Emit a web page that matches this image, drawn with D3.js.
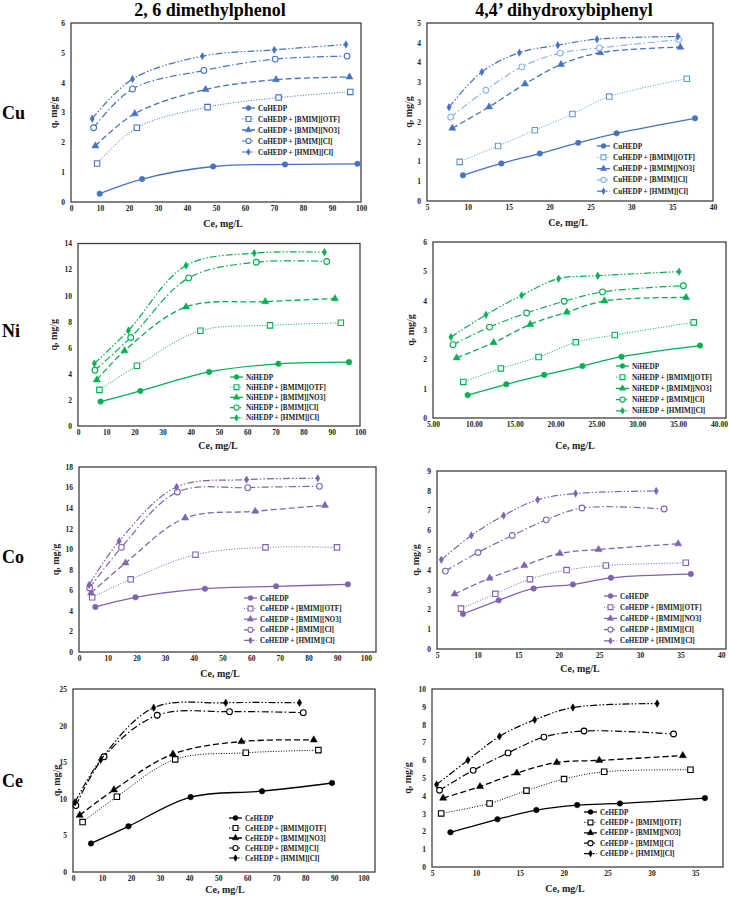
<!DOCTYPE html>
<html>
<head>
<meta charset="utf-8">
<script src="https://cdn.jsdelivr.net/npm/d3@7"></script>
<style>
  body { margin: 0; background: #fff; }
  text { font-family: "Liberation Serif", "Times New Roman", serif; font-weight: bold; }
</style>
</head>
<body>
<script>
// column titles, row labels and legend names
const phenols = ["2, 6 dimethylphenol", "4,4\u2019 dihydroxybiphenyl"];
const metals = ["Cu", "Ni", "Co", "Ce"];
const seriesSuffix = ["HEDP", "HEDP + [BMIM][OTF]", "HEDP + [BMIM][NO3]", "HEDP + [BMIM][Cl]", "HEDP + [HMIM][Cl]"];

// [Ce, qe] pairs, 5 series each
const cuDmp = [
  [[9.9,0.28],[24.5,0.77],[49.0,1.19],[73.8,1.26],[98.8,1.28]],
  [[9.0,1.29],[22.7,2.49],[47.1,3.18],[71.6,3.50],[96.3,3.69]],
  [[8.4,1.88],[22.0,2.96],[46.4,3.77],[70.7,4.10],[96.0,4.19]],
  [[7.8,2.49],[21.2,3.79],[45.8,4.41],[70.4,4.79],[95.2,4.89]],
  [[7.3,2.79],[21.2,4.12],[45.3,4.89],[70.1,5.10],[94.8,5.28]]
];
const cuBip = [
  [[9.4,0.65],[14.1,0.95],[18.8,1.20],[23.5,1.47],[28.2,1.71],[37.8,2.09]],
  [[9.0,0.99],[13.7,1.39],[18.2,1.79],[22.8,2.20],[27.3,2.64],[36.8,3.09]],
  [[8.1,1.84],[12.6,2.38],[17.0,2.96],[21.4,3.45],[26.2,3.75],[36.0,3.89]],
  [[7.9,2.12],[12.2,2.80],[16.6,3.39],[21.3,3.74],[26.1,3.87],[35.8,4.08]],
  [[7.7,2.37],[11.7,3.26],[16.3,3.75],[21.0,3.94],[25.8,4.09],[35.7,4.16]]
];
const niDmp = [
  [[8.0,1.87],[22.1,2.69],[46.5,4.15],[71.1,4.77],[96.1,4.90]],
  [[7.6,2.77],[20.9,4.62],[43.4,7.31],[68.1,7.72],[93.2,7.92]],
  [[6.7,3.54],[16.5,5.77],[38.3,9.13],[66.4,9.54],[91.1,9.77]],
  [[6.0,4.28],[18.7,6.79],[39.2,11.36],[63.2,12.56],[88.2,12.62]],
  [[5.8,4.79],[17.9,7.33],[38.3,12.31],[62.5,13.26],[87.4,13.33]]
];
const niBip = [
  [[9.24,0.78],[13.97,1.15],[18.61,1.47],[23.30,1.77],[28.07,2.09],[37.68,2.47]],
  [[8.71,1.23],[13.31,1.69],[17.92,2.08],[22.48,2.58],[27.25,2.83],[36.91,3.26]],
  [[7.89,2.05],[12.42,2.57],[16.90,3.19],[21.38,3.61],[25.99,3.99],[35.97,4.11]],
  [[7.45,2.50],[11.92,3.10],[16.45,3.58],[21.06,3.98],[25.74,4.30],[35.64,4.51]],
  [[7.20,2.76],[11.48,3.52],[15.84,4.18],[20.37,4.75],[25.17,4.85],[35.11,4.99]]
];
const coDmp = [
  [[5.7,4.38],[19.7,5.32],[43.9,6.16],[68.7,6.39],[93.7,6.58]],
  [[4.6,5.32],[18.0,7.07],[40.6,9.47],[65.0,10.18],[89.9,10.18]],
  [[4.2,5.74],[16.2,8.66],[37.0,13.04],[61.4,13.69],[85.7,14.27]],
  [[3.7,6.23],[14.8,10.18],[34.3,15.57],[58.8,15.99],[83.8,16.12]],
  [[3.5,6.52],[14.0,10.80],[34.0,16.06],[58.4,16.77],[83.2,16.90]]
];
const coBip = [
  [[8.20,1.77],[12.59,2.46],[16.90,3.06],[21.74,3.26],[26.42,3.60],[36.27,3.79]],
  [[7.95,2.04],[12.18,2.79],[16.45,3.53],[20.96,3.99],[25.80,4.22],[35.65,4.36]],
  [[7.17,2.78],[11.48,3.58],[15.75,4.22],[20.14,4.83],[24.90,5.03],[34.71,5.32]],
  [[6.03,3.94],[10.05,4.88],[14.27,5.74],[18.46,6.53],[22.85,7.13],[32.98,7.08]],
  [[5.53,4.51],[9.23,5.74],[13.21,6.75],[17.39,7.55],[22.07,7.86],[32.0,7.99]]
];
const ceDmp = [
  [[6.2,3.90],[19.1,6.24],[40.5,10.23],[65.1,11.04],[89.2,12.16]],
  [[3.3,6.82],[15.1,10.28],[35.2,15.39],[59.5,16.29],[84.5,16.65]],
  [[2.3,7.76],[14.1,11.22],[34.4,16.11],[58.0,17.82],[82.9,18.04]],
  [[1.0,9.07],[10.7,15.75],[29.0,21.41],[53.9,21.90],[79.3,21.77]],
  [[0.7,9.52],[9.5,15.31],[27.8,22.44],[52.6,23.11],[78.0,23.11]]
];
const ceBip = [
  [[7.10,1.95],[12.46,2.68],[16.89,3.20],[21.54,3.48],[26.41,3.57],[36.09,3.87]],
  [[6.05,3.01],[11.56,3.57],[15.76,4.29],[20.04,4.94],[24.61,5.35],[34.44,5.46]],
  [[6.27,3.87],[10.47,4.52],[14.67,5.28],[19.21,5.87],[24.05,5.99],[33.57,6.26]],
  [[5.86,4.31],[9.69,5.43],[13.66,6.41],[17.75,7.30],[22.32,7.64],[32.52,7.47]],
  [[5.52,4.63],[9.09,6.00],[12.69,7.34],[16.70,8.27],[21.05,8.96],[30.65,9.18]]
];

// tick values
const ticks0to100 = d3.range(0, 101, 10);
const ticks5to40 = d3.range(5, 41, 5);
const ticks5to35 = d3.range(5, 36, 5);

const W = 730, H = 902;
const svg = d3.select("body").append("svg").attr("width", W).attr("height", H);

// line style per series: dash, width, marker
const styles = [
  { dash: null, w: 1.3, sym: d3.symbolCircle, size: 24, open: false },
  { dash: "1,1.6", w: 1.0, sym: d3.symbolSquare, size: 30, open: true },
  { dash: "6,3", w: 1.3, sym: d3.symbolTriangle, size: 22, open: false },
  { dash: "7,2.5,1.5,2.5", w: 1.2, sym: d3.symbolCircle, size: 26, open: true },
  { dash: "7,2,1.5,2,1.5,2", w: 1.2, sym: d3.symbolDiamond, size: 16, open: false }
];

const blue = "#4472C4", green = "#00B050", purple = "#7F63B0", black = "#000";

const panels = [
  { data: cuDmp, metal: "Cu", colors: [blue, blue, blue, blue, blue],
    f: { l: 71, r: 361, t: 23, b: 202 }, xd: [0, 100], xt: ticks0to100, yd: [0, 6], yt: d3.range(0, 7, 1),
    yf: d3.format("d"), xf: d3.format("d"), leg: { x: 242, y: 108, dy: 11 }, ylx: 53, xlx: 223, xly: 227 },
  { data: cuBip, metal: "Cu", colors: [blue, "#5B9BD5", blue, "#8EB4E3", blue],
    f: { l: 427, r: 713, t: 23, b: 201 }, xd: [5, 40], xt: ticks5to40, yd: [0, 4.5], yt: d3.range(0, 4.51, 0.5),
    yf: d => Math.round(d), xf: d3.format("d"), leg: { x: 597, y: 146, dy: 11.3 }, ylx: 408, xlx: 568, xly: 226 },
  { data: niDmp, metal: "Ni", colors: [green, green, green, green, green],
    f: { l: 78, r: 360, t: 243.5, b: 426 }, xd: [0, 100], xt: ticks0to100, yd: [0, 14], yt: d3.range(0, 15, 2),
    yf: d3.format("d"), xf: d3.format("d"), leg: { x: 230, y: 377, dy: 10.2 }, ylx: 53, xlx: 218, xly: 449 },
  { data: niBip, metal: "Ni", colors: [green, green, green, green, green],
    f: { l: 433, r: 726, t: 242, b: 418 }, xd: [5, 40.86], xt: ticks5to40, yd: [0, 6], yt: d3.range(0, 7, 1),
    yf: d3.format("d"), xf: d3.format(".2f"), leg: { x: 616, y: 366, dy: 11.2 }, ylx: 410, xlx: 575, xly: 449 },
  { data: coDmp, metal: "Co", colors: [purple, purple, purple, purple, purple],
    f: { l: 79, r: 376, t: 467, b: 652 }, xd: [0, 103.5], xt: ticks0to100, yd: [0, 18], yt: d3.range(0, 19, 2),
    yf: d3.format("d"), xf: d3.format("d"), leg: { x: 244, y: 598, dy: 10.6 }, ylx: 55, xlx: 220, xly: 677 },
  { data: coBip, metal: "Co", colors: [purple, purple, purple, purple, purple],
    f: { l: 437, r: 726, t: 471, b: 649 }, xd: [5, 40.6], xt: ticks5to40, yd: [0, 9], yt: d3.range(0, 10, 1),
    yf: d3.format("d"), xf: d3.format("d"), leg: { x: 604, y: 596, dy: 11.2 }, ylx: 415, xlx: 580, xly: 672 },
  { data: ceDmp, metal: "Ce", colors: [black, black, black, black, black],
    f: { l: 73, r: 375, t: 689, b: 872 }, xd: [0, 104], xt: ticks0to100, yd: [0, 25], yt: d3.range(0, 26, 5),
    yf: d3.format("d"), xf: d3.format("d"), leg: { x: 229, y: 818, dy: 10 }, ylx: 56, xlx: 225, xly: 893 },
  { data: ceBip, metal: "Ce", colors: [black, black, black, black, black],
    f: { l: 432, r: 723, t: 689, b: 867 }, xd: [5, 38.15], xt: ticks5to35, yd: [0, 10], yt: d3.range(0, 11, 1),
    yf: d3.format("d"), xf: d3.format("d"), leg: { x: 584, y: 812, dy: 10.4 }, ylx: 407, xlx: 565, xly: 892 }
];

function drawMarker(g, st, color, x, y, scale) {
  g.append("path")
    .attr("d", d3.symbol().type(st.sym).size(st.size * (scale || 1)))
    .attr("transform", "translate(" + x + "," + y + ")")
    .attr("fill", st.open ? "#fff" : color)
    .attr("stroke", color)
    .attr("stroke-width", st.open ? 1.1 : 0.5);
}

panels.forEach(function (p) {
  const f = p.f;
  const x = d3.scaleLinear().domain(p.xd).range([f.l, f.r]);
  const y = d3.scaleLinear().domain(p.yd).range([f.b, f.t]);
  const g = svg.append("g");

  // axes
  const xa = g.append("g").attr("transform", "translate(0," + f.b + ")")
    .call(d3.axisBottom(x).tickValues(p.xt).tickFormat(p.xf).tickSize(0).tickPadding(4));
  const ya = g.append("g").attr("transform", "translate(" + f.l + ",0)")
    .call(d3.axisLeft(y).tickValues(p.yt).tickFormat(p.yf).tickSize(0).tickPadding(6));
  [xa, ya].forEach(function (a) {
    a.select(".domain").remove();
    a.selectAll("text").attr("font-size", 7.5).attr("fill", "#222");
  });

  // plot frame
  g.append("rect").attr("x", f.l).attr("y", f.t).attr("width", f.r - f.l).attr("height", f.b - f.t)
    .attr("fill", "none").attr("stroke", "#404040").attr("stroke-width", 1.3);

  const line = d3.line().x(d => x(d[0])).y(d => y(d[1])).curve(d3.curveCatmullRom.alpha(0.5));

  p.data.forEach(function (s, i) {
    const st = styles[i], c = p.colors[i];
    g.append("path").datum(s).attr("d", line).attr("fill", "none")
      .attr("stroke", c).attr("stroke-width", st.w)
      .attr("stroke-dasharray", st.dash);
    s.forEach(function (d) { drawMarker(g, st, c, x(d[0]), y(d[1])); });
  });

  // legend
  p.data.forEach(function (s, i) {
    const st = styles[i], c = p.colors[i];
    const ly = p.leg.y + i * p.leg.dy;
    g.append("line").attr("x1", p.leg.x).attr("x2", p.leg.x + 13).attr("y1", ly).attr("y2", ly)
      .attr("stroke", c).attr("stroke-width", st.w).attr("stroke-dasharray", st.dash);
    drawMarker(g, st, c, p.leg.x + 6.5, ly, 0.8);
    g.append("text").attr("x", p.leg.x + 16).attr("y", ly + 2.5)
      .attr("font-size", 7.2).attr("fill", "#222").text(p.metal + seriesSuffix[i]);
  });

  // axis titles
  g.append("text").attr("x", p.xlx).attr("y", p.xly).attr("text-anchor", "middle")
    .attr("font-size", 10).attr("fill", "#222").text("Ce, mg/L");
  g.append("text").attr("transform", "translate(" + p.ylx + "," + ((f.t + f.b) / 2) + ") rotate(-90)")
    .attr("text-anchor", "middle").attr("dy", "0.35em")
    .attr("font-size", 10).attr("fill", "#222").text("q, mg/g");
});

// column titles
svg.append("text").attr("x", 210).attr("y", 16).attr("text-anchor", "middle")
  .attr("font-size", 18).text(phenols[0]);
svg.append("text").attr("x", 564).attr("y", 16).attr("text-anchor", "middle")
  .attr("font-size", 18).text(phenols[1]);

// row labels
const rowBase = [118.5, 336.7, 563.3, 786.7];
metals.forEach(function (m, i) {
  svg.append("text").attr("x", 2).attr("y", rowBase[i]).attr("font-size", 18).text(m);
});
</script>
</body>
</html>
